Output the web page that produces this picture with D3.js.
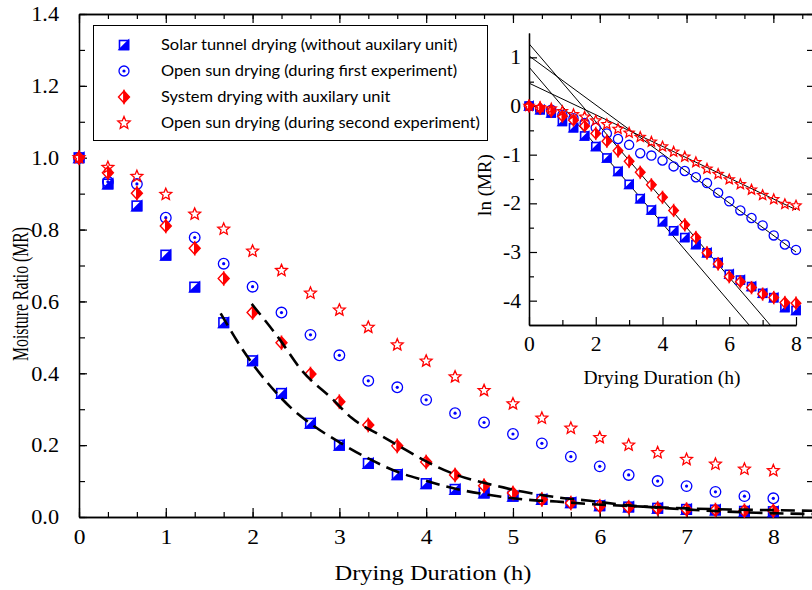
<!DOCTYPE html>
<html><head><meta charset="utf-8">
<script src="https://cdn.jsdelivr.net/npm/d3@7"></script>
<style>body{margin:0;background:#fff} svg{display:block}</style>
</head><body><svg id="c" width="812" height="590"></svg>
<script>
// ---------- DATA ----------
const hours = [0, 0.333, 0.667, 1, 1.333, 1.667, 2, 2.333, 2.667, 3, 3.333, 3.667, 4,
               4.333, 4.667, 5, 5.333, 5.667, 6, 6.333, 6.667, 7, 7.333, 7.667, 8];
const solarTunnel = [1.0, 0.927, 0.866, 0.729, 0.640, 0.541, 0.435, 0.344, 0.261, 0.200, 0.149, 0.118, 0.093,
                     0.077, 0.067, 0.058, 0.049, 0.040, 0.0315, 0.028, 0.0245, 0.0213, 0.0195, 0.0159, 0.015];
const openSun1 = [1.0, 0.933, 0.927, 0.833, 0.778, 0.705, 0.641, 0.569, 0.507, 0.450, 0.379, 0.361, 0.326,
                  0.289, 0.263, 0.231, 0.205, 0.168, 0.141, 0.117, 0.100, 0.086, 0.070, 0.058, 0.052];
const systemAux = [1.0, 0.958, 0.901, 0.810, 0.748, 0.664, 0.569, 0.485, 0.398, 0.321, 0.256, 0.198, 0.153,
                   0.117, 0.087, 0.067, 0.049, 0.039, 0.030, 0.027, 0.024, 0.021, 0.0195, 0.0176, 0.0174];
const openSun2 = [1.0, 0.973, 0.948, 0.898, 0.843, 0.801, 0.740, 0.686, 0.623, 0.576, 0.528, 0.479, 0.434,
                  0.390, 0.352, 0.315, 0.275, 0.247, 0.221, 0.200, 0.179, 0.160, 0.147, 0.133, 0.129];
const seriesNames = ["Solar tunnel drying (without auxilary unit)",
                     "Open sun drying (during first experiment)",
                     "System drying with auxilary unit",
                     "Open sun drying (during second experiment)"];
// dashed model curves
const fitTunnelT  = [1.632, 1.874, 2.246, 2.469, 2.661, 3.0, 3.333, 3.698, 3.967, 4.35, 4.735, 5.12, 5.5, 5.887, 6.5, 7.0, 7.5, 8.0, 8.5];
const fitTunnelMR = [0.567, 0.470, 0.353, 0.298, 0.261, 0.208, 0.163, 0.123, 0.103, 0.078, 0.061, 0.049, 0.043, 0.036, 0.029, 0.024, 0.021, 0.019, 0.017];
const fitSystemT  = [1.99, 2.316, 2.546, 2.93, 3.14, 3.468, 3.698, 3.967, 4.35, 4.735, 5.12, 5.5, 5.887, 6.3, 6.8, 7.3, 7.8, 8.5];
const fitSystemMR = [0.593, 0.493, 0.414, 0.326, 0.276, 0.228, 0.196, 0.159, 0.117, 0.091, 0.070, 0.055, 0.045, 0.033, 0.024, 0.017, 0.012, 0.008];
// inset linear fits of ln(MR): value at t=0 and at t=8
const lnFitAt0 = [0.80, 1.03, 1.28, 0.47];
const lnFitAt8 = [-5.63, -3.00, -5.12, -2.13];
// ticks
const mainXTicks = [0, 1, 2, 3, 4, 5, 6, 7, 8];
const mainYTicks = [0, 0.2, 0.4, 0.6, 0.8, 1.0, 1.2, 1.4];
const insetXTicks = [0, 2, 4, 6, 8];
const insetYTicks = [-4, -3, -2, -1, 0, 1];

// ---------- DRAW ----------
const svg = d3.select("#c");
const BLUE = "#0000ff", RED = "#ff0000";
const serif = "'Liberation Serif','Times New Roman',serif";

const x = d3.scaleLinear([0, 8.48], [79, 815]);
const y = d3.scaleLinear([0, 1.4], [517, 14]);

function styleAxis(g, fs) {
  g.selectAll("path.domain").attr("stroke", "#000").attr("stroke-width", 1.3);
  g.selectAll(".tick line").attr("stroke", "#000").attr("stroke-width", 1.2);
  g.selectAll("text").attr("font-family", serif).attr("font-size", fs).attr("fill", "#000");
}
function stretch(sel, k) {
  sel.each(function() {
    const w = this.getComputedTextLength();
    d3.select(this).attr("textLength", w * k).attr("lengthAdjust", "spacingAndGlyphs");
  });
}
const minorX = d3.range(0, 26).map(i => i / 3);
const minorY = d3.range(0, 15).map(i => i / 10);

// main axes
svg.append("g").attr("transform", "translate(0,517)")
  .call(d3.axisBottom(x).tickValues(minorX).tickSize(-5).tickSizeOuter(0).tickFormat(""))
  .call(g => styleAxis(g, 21));
svg.append("g").attr("transform", "translate(0,517)")
  .call(d3.axisBottom(x).tickValues(mainXTicks).tickSize(-9).tickSizeOuter(0).tickPadding(12).tickFormat(d3.format("d")))
  .call(g => styleAxis(g, 21)).call(g => stretch(g.selectAll("text"), 1.12));
svg.append("g").attr("transform", "translate(0,14)")
  .call(d3.axisTop(x).tickValues(minorX).tickSize(-5).tickSizeOuter(0).tickFormat(""))
  .call(g => styleAxis(g, 21));
svg.append("g").attr("transform", "translate(0,14)")
  .call(d3.axisTop(x).tickValues(mainXTicks).tickSize(-9).tickSizeOuter(0).tickFormat(""))
  .call(g => styleAxis(g, 21));
svg.append("g").attr("transform", "translate(79,0)")
  .call(d3.axisLeft(y).tickValues(minorY).tickSize(-6).tickSizeOuter(0).tickFormat(""))
  .call(g => styleAxis(g, 21));
svg.append("g").attr("transform", "translate(79,0)")
  .call(d3.axisLeft(y).tickValues(mainYTicks).tickSize(-8).tickSizeOuter(0).tickPadding(20).tickFormat(d3.format(".1f")))
  .call(g => styleAxis(g, 21)).call(g => stretch(g.selectAll("text"), 1.06));
svg.append("g").attr("transform", "translate(815,0)")
  .call(d3.axisRight(y).tickValues(minorY).tickSize(-8).tickSizeOuter(0).tickFormat(""))
  .call(g => styleAxis(g, 21));

svg.append("text").attr("x", 433).attr("y", 580).attr("text-anchor", "middle")
  .attr("font-family", serif).attr("font-size", 21).attr("textLength", 197).attr("lengthAdjust", "spacingAndGlyphs")
  .text("Drying Duration (h)");
svg.append("text").attr("transform", "translate(28,294) rotate(-90) scale(1,1.4)").attr("text-anchor", "middle")
  .attr("font-family", serif).attr("font-size", 16.5).attr("textLength", 134).attr("lengthAdjust", "spacingAndGlyphs")
  .text("Moisture Ratio (MR)");

// markers
function starPath(R, r) {
  const pts = d3.range(10).map(i => {
    const a = -Math.PI / 2 + i * Math.PI / 5, rr = i % 2 ? r : R;
    return [rr * Math.cos(a), rr * Math.sin(a)];
  });
  return "M" + pts.map(p => p.join(",")).join("L") + "Z";
}
function markSquare(g, s) {
  g.append("rect").attr("x", -s/2).attr("y", -s/2).attr("width", s).attr("height", s)
    .attr("fill", "#fff").attr("stroke", BLUE).attr("stroke-width", 1.6);
  g.append("path").attr("d", `M${s/2},${-s/2}L${s/2},${s/2}L${-s/2},${s/2}Z`).attr("fill", BLUE).attr("stroke", BLUE).attr("stroke-width", 1.6);
}
function markCircle(g, r, dot) {
  g.append("circle").attr("r", r).attr("fill", "none").attr("stroke", BLUE).attr("stroke-width", 1.3);
  if (dot) g.append("circle").attr("r", 1.6).attr("fill", BLUE);
}
function markDiamond(g, w, h) {
  g.append("path").attr("d", `M0,${-h}L${-w},0L0,${h}Z`).attr("fill", "#fff").attr("stroke", RED).attr("stroke-width", 1.4);
  g.append("path").attr("d", `M0,${-h}L${w},0L0,${h}Z`).attr("fill", RED).attr("stroke", RED).attr("stroke-width", 1.4);
}
function markStar(g, R) {
  g.append("path").attr("d", starPath(R, R * 0.45)).attr("fill", "none").attr("stroke", RED).attr("stroke-width", 1.3);
}

const mainSeries = [
  {vals: solarTunnel, draw: g => markSquare(g, 9.5)},
  {vals: openSun1, draw: g => markCircle(g, 5.3, true)},
  {vals: systemAux, draw: g => markDiamond(g, 5.5, 6)},
  {vals: openSun2, draw: g => markStar(g, 6.2)}
];
mainSeries.forEach(s => {
  svg.append("g").selectAll("g").data(hours.map((h, i) => [h, s.vals[i]])).join("g")
    .attr("transform", d => `translate(${x(d[0])},${y(d[1])})`)
    .each(function() { s.draw(d3.select(this)); });
});

// dashed model curves
const dline = d3.line().x(d => x(d[0])).y(d => y(d[1])).curve(d3.curveMonotoneX);
[[fitTunnelT, fitTunnelMR], [fitSystemT, fitSystemMR]].forEach(([ts, ms]) => {
  svg.append("path").attr("d", dline(ts.map((t, i) => [t, ms[i]])))
    .attr("fill", "none").attr("stroke", "#000").attr("stroke-width", 2.6).attr("stroke-dasharray", "14,7");
});

// legend
const leg = svg.append("g");
leg.append("rect").attr("x", 93.5).attr("y", 25.5).attr("width", 394).attr("height", 115)
  .attr("fill", "#fff").attr("stroke", "#000").attr("stroke-width", 1);
const legY = [45, 71, 97, 123];
const legDraw = [g => markSquare(g, 9), g => markCircle(g, 5, true), g => markDiamond(g, 5.5, 6), g => markStar(g, 6.5)];
seriesNames.forEach((n, i) => {
  const g = leg.append("g").attr("transform", `translate(124,${legY[i]})`);
  legDraw[i](g);
  leg.append("text").attr("x", 161).attr("y", legY[i]).attr("dy", "0.35em")
    .attr("font-family", "Lato, 'Open Sans', sans-serif").attr("font-size", 15).text(n)
    .call(t => stretch(t, 1.095));
});

// ---------- INSET ----------
const xi = d3.scaleLinear([0, 8], [529, 796]);
const yi = d3.scaleLinear([-4.5, 1.5], [325, 33]);
const ins = svg.append("g");
ins.append("g").attr("transform", "translate(0,325)")
  .call(d3.axisBottom(xi).tickValues([1, 3, 5, 7]).tickSize(-5).tickSizeOuter(0).tickFormat(""))
  .call(g => styleAxis(g, 20));
ins.append("g").attr("transform", "translate(0,325)")
  .call(d3.axisBottom(xi).tickValues(insetXTicks).tickSize(-8).tickSizeOuter(0).tickPadding(12).tickFormat(d => String(d)))
  .call(g => styleAxis(g, 20)).call(g => stretch(g.selectAll("text"), 1.08));
ins.append("g").attr("transform", "translate(529,0)")
  .call(d3.axisLeft(yi).tickValues([-3.5, -2.5, -1.5, -0.5, 0.5]).tickSize(-5).tickSizeOuter(0).tickFormat(""))
  .call(g => styleAxis(g, 20));
ins.append("g").attr("transform", "translate(529,0)")
  .call(d3.axisLeft(yi).tickValues(insetYTicks).tickSize(-8).tickSizeOuter(0).tickPadding(8).tickFormat(d => String(d)))
  .call(g => styleAxis(g, 20)).call(g => stretch(g.selectAll("text"), 1.08));
ins.append("text").attr("x", 662).attr("y", 384).attr("text-anchor", "middle")
  .attr("font-family", serif).attr("font-size", 19).attr("textLength", 157).attr("lengthAdjust", "spacingAndGlyphs")
  .text("Drying Duration (h)");
ins.append("text").attr("transform", "translate(491,185) rotate(-90)").attr("text-anchor", "middle")
  .attr("font-family", serif).attr("font-size", 19).text("ln (MR)");

svg.append("clipPath").attr("id", "insclip").append("rect")
  .attr("x", 529).attr("y", 33).attr("width", 267).attr("height", 292);
const fitG = ins.append("g").attr("clip-path", "url(#insclip)");
lnFitAt0.forEach((a, i) => {
  fitG.append("line").attr("x1", xi(0)).attr("y1", yi(a)).attr("x2", xi(8)).attr("y2", yi(lnFitAt8[i]))
    .attr("stroke", "#000").attr("stroke-width", 1);
});
const insetSeries = [
  {vals: solarTunnel, draw: g => markSquare(g, 8)},
  {vals: openSun1, draw: g => markCircle(g, 4.6, false)},
  {vals: systemAux, draw: g => markDiamond(g, 4.8, 5.3)},
  {vals: openSun2, draw: g => markStar(g, 5.3)}
];
insetSeries.forEach(s => {
  ins.append("g").selectAll("g").data(hours.map((h, i) => [h, Math.log(s.vals[i])])).join("g")
    .attr("transform", d => `translate(${xi(d[0])},${yi(d[1])})`)
    .each(function() { s.draw(d3.select(this)); });
});
</script></body></html>
